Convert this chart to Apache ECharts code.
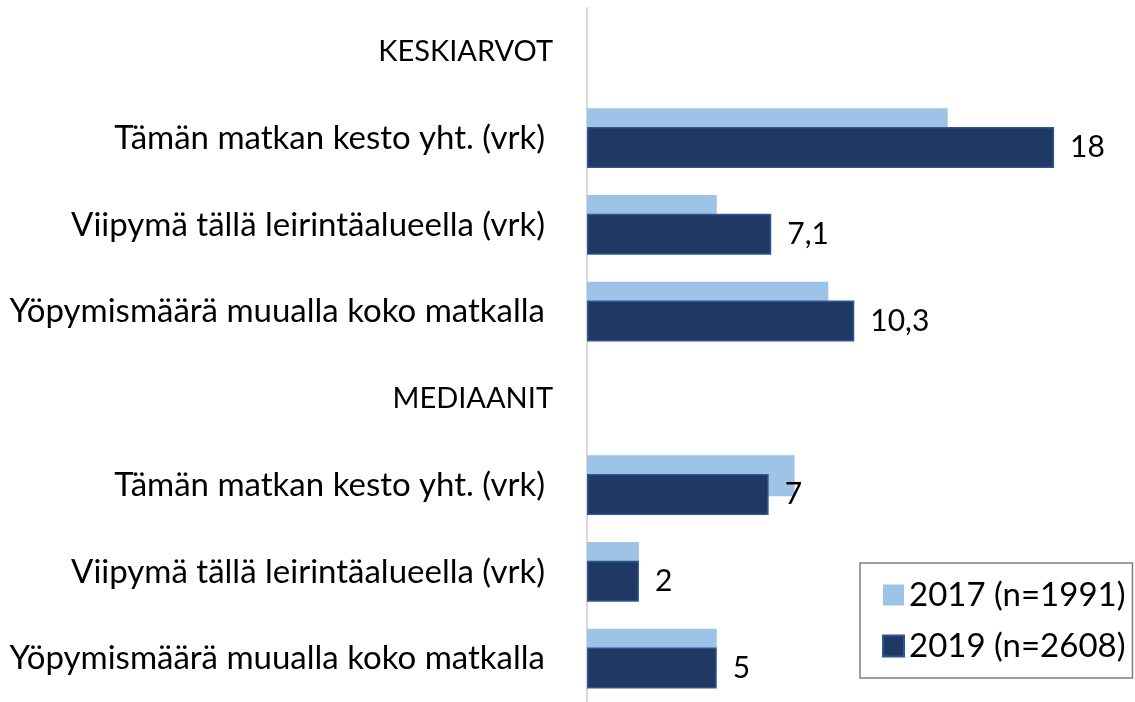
<!DOCTYPE html>
<html>
<head>
<meta charset="utf-8">
<script src="https://cdn.jsdelivr.net/npm/echarts@6/dist/echarts.min.js"></script>
<style>
  html, body { margin: 0; padding: 0; background: #fff; }
  #main { width: 1135px; height: 702px; }
</style>
</head>
<body>
<div id="main"></div>
<script>
// kategoriat (otsikkorivit ilman pylväitä)
var categories = [
  'KESKIARVOT',
  'Tämän matkan kesto yht. (vrk)',
  'Viipymä tällä leirintäalueella (vrk)',
  'Yöpymismäärä muualla koko matkalla',
  'MEDIAANIT',
  'Tämän matkan kesto yht. (vrk)',
  'Viipymä tällä leirintäalueella (vrk)',
  'Yöpymismäärä muualla koko matkalla'
];
var headers = ['KESKIARVOT', 'MEDIAANIT'];

var values2017 = [null, 13.9, 5.0, 9.3, null, 8.0, 2.0, 5.0];
var values2019 = [null, 18, 7.1, 10.3, null, 7, 2, 5];

var seriesNames = ['2017 (n=1991)', '2019 (n=2608)'];

var font = 'Lato';

var chart = echarts.init(document.getElementById('main'));

var option = {
  animation: false,
  textStyle: { fontFamily: font },
  grid: {
    left: 587,
    right: 29,
    top: 8,
    bottom: -6,
    containLabel: false
  },
  legend: {
    orient: 'vertical',
    left: 860,
    top: 563,
    borderColor: '#7f7f7f',
    borderWidth: 1.5,
    borderRadius: 0,
    padding: [15, 7, 15, 22],
    itemGap: 17,
    itemWidth: 21,
    itemHeight: 21,
    icon: 'rect',
    textStyle: { fontFamily: font, fontSize: 33, color: '#000', lineHeight: 34 },
    data: seriesNames
  },
  xAxis: {
    type: 'value',
    min: 0,
    max: 20,
    show: false
  },
  yAxis: {
    type: 'category',
    inverse: true,
    data: categories,
    axisLine: { lineStyle: { color: '#d9d9d9', width: 2 } },
    axisTick: { show: false },
    axisLabel: {
      margin: 34,
      formatter: function (v) {
        if (headers.indexOf(v) >= 0) return '{h|' + v + '}';
        return '{n|' + v + '}';
      },
      rich: {
        h: { fontFamily: font, fontSize: 29, color: '#000' },
        n: { fontFamily: font, fontSize: 33, color: '#000', padding: [0, 8, 0, 0] }
      }
    }
  },
  series: [
    {
      name: seriesNames[0],
      type: 'bar',
      data: values2017,
      barWidth: 41,
      barGap: '-54%',
      itemStyle: { color: '#9DC3E6' }
    },
    {
      name: seriesNames[1],
      type: 'bar',
      data: values2019,
      barWidth: 41,
      barGap: '-54%',
      itemStyle: { color: '#203864', borderColor: '#2F5597', borderWidth: 1.5 },
      label: {
        show: true,
        position: 'right',
        distance: 16,
        fontFamily: font,
        fontSize: 30,
        color: '#000',
        formatter: function (p) {
          return String(p.value).replace('.', ',');
        }
      }
    }
  ]
};

chart.setOption(option);
</script>
</body>
</html>
